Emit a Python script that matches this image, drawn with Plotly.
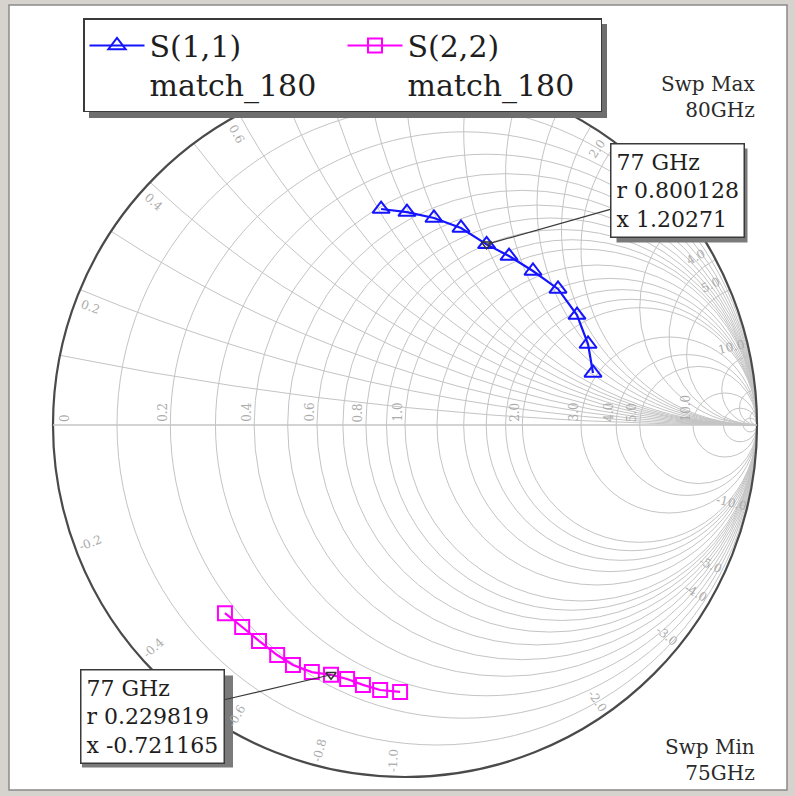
import math
import plotly.graph_objects as go

# ---------------- data ----------------
freq_ghz = [75.0, 75.5, 76.0, 76.5, 77.0, 77.5, 78.0, 78.5, 79.0, 79.5, 80.0]

s11_r = [0.408, 0.468, 0.545, 0.648, 0.800128, 0.939, 1.134, 1.411, 1.848, 2.388, 2.900]
s11_x = [0.809, 0.893, 0.990, 1.097, 1.20271, 1.321, 1.467, 1.648, 1.740, 1.624, 1.237]

s22_r = [0.265, 0.250, 0.245, 0.241, 0.229819, 0.209, 0.197, 0.193, 0.190, 0.185, 0.176]
s22_x = [-0.946, -0.879, -0.821, -0.769, -0.721165, -0.671, -0.619, -0.572, -0.516, -0.465, -0.416]

marker_freq = ["77 GHz", "77 GHz"]
marker_r = [0.800128, 0.229819]
marker_x = [1.20271, -0.721165]
marker_r_text = ["0.800128", "0.229819"]
marker_x_text = ["1.20271", "-0.721165"]

grid_vals = [0.1, 0.2, 0.3, 0.4, 0.5, 0.6, 0.7, 0.8, 0.9, 1.0,
             1.2, 1.4, 1.6, 1.8, 2.0, 3.0, 4.0, 5.0, 10.0, 20.0, 50.0]
real_label_vals = [0, 0.2, 0.4, 0.6, 0.8, 1.0, 2.0, 3.0, 4.0, 5.0, 10.0]
imag_label_vals = [0.2, 0.4, 0.6, 0.8, 1.0, 2.0, 3.0, 4.0, 5.0, 10.0]

# ---------------- geometry ----------------
W, H = 795, 796
CX, CY, RAD = 405.0, 425.0, 352.0
SERIF = "DejaVu Serif"
LEGEND_BOX = (83, 18, 601, 112)  # left, top, right, bottom (px)


def z_to_px(r, x):
    z = complex(r, x)
    g = (z - 1) / (z + 1)
    return CX + g.real * RAD, CY - g.imag * RAD


def paper(px, py):
    return px / W, 1 - py / H


fig = go.Figure()

fig.add_trace(go.Scattersmith(
    real=s11_r, imag=s11_x, mode="lines+markers",
    name="S(1,1)<br>match_180",
    line=dict(color="#1414ff", width=2.2),
    marker=dict(symbol="triangle-up-open", size=15, color="#1414ff",
                line=dict(width=2, color="#1414ff")),
    text=[f"{f} GHz" for f in freq_ghz],
))
fig.add_trace(go.Scattersmith(
    real=s22_r, imag=s22_x, mode="lines+markers",
    name="S(2,2)<br>match_180",
    line=dict(color="#ff00ff", width=2.2),
    marker=dict(symbol="square-open", size=14, color="#ff00ff",
                line=dict(width=2, color="#ff00ff")),
    text=[f"{f} GHz" for f in freq_ghz],
))
fig.add_trace(go.Scattersmith(
    real=marker_r, imag=marker_x, mode="markers", showlegend=False,
    marker=dict(symbol="triangle-down-open", size=9, color="#303030",
                line=dict(width=1.5, color="#303030")),
))

annotations = []
shapes = [
    dict(type="rect", xref="paper", yref="paper", layer="below",
         x0=9 / W, x1=787 / W, y0=1 - 790 / H, y1=1 - 5 / H,
         fillcolor="white", line=dict(color="#8a8a8a", width=1.5)),
    # legend shadow
    dict(type="rect", xref="paper", yref="paper", layer="above",
         x0=(LEGEND_BOX[0] + 6) / W, x1=(LEGEND_BOX[2] + 6) / W,
         y0=1 - (LEGEND_BOX[3] + 6) / H, y1=1 - (LEGEND_BOX[1] + 6) / H,
         fillcolor="#6e6e6e", line=dict(width=0)),
]

# real-axis labels
for r in real_label_vals:
    g = (r - 1) / (r + 1)
    px = CX + g * RAD
    xp, yp = paper(px, CY)
    annotations.append(dict(
        x=xp, y=yp, xref="paper", yref="paper", showarrow=False,
        text="0" if r == 0 else f"{r:.1f}", textangle=-90,
        xanchor="center", yanchor="bottom",
        xshift=12 if r == 0 else -7, yshift=1,
        font=dict(family=SERIF, size=12, color="#ababab"),
    ))

# imaginary (rim) labels (those hidden behind the legend box are skipped)
for v in imag_label_vals:
    for s in (1, -1):
        z = complex(0, s * v)
        g = (z - 1) / (z + 1)
        th = math.atan2(g.imag, g.real) + s * math.radians(2.0)
        px = CX + 0.955 * RAD * math.cos(th)
        py = CY - 0.955 * RAD * math.sin(th)
        if (LEGEND_BOX[0] - 10 <= px <= LEGEND_BOX[2] + 10
                and py <= LEGEND_BOX[3] + 8):
            continue
        ang = -(math.degrees(th) + 180.0)
        while ang > 180:
            ang -= 360
        while ang <= -180:
            ang += 360
        if ang > 90:
            ang -= 180
        elif ang < -90:
            ang += 180
        xp, yp = paper(px, py)
        annotations.append(dict(
            x=xp, y=yp, xref="paper", yref="paper", showarrow=False,
            text=f"{s * v:.1f}", textangle=ang,
            xanchor="center", yanchor="middle",
            font=dict(family=SERIF, size=12, color="#ababab"),
        ))

# marker read-out boxes: centre and half-size in pixels
boxes = [(677.0, 190.5, 65.5, 47.0), (152.5, 716.5, 75.5, 46.0)]
for i in range(len(marker_r)):
    mx, my = z_to_px(marker_r[i], marker_x[i])
    bx, by, hw, hh = boxes[i]
    xp, yp = paper(mx, my)
    txt = f"{marker_freq[i]}<br>r {marker_r_text[i]}<br>x {marker_x_text[i]}"
    shapes.append(dict(type="rect", xref="paper", yref="paper", layer="above",
                       x0=(bx - hw + 5) / W, x1=(bx + hw + 5) / W,
                       y0=1 - (by + hh + 5) / H, y1=1 - (by - hh + 5) / H,
                       fillcolor="#7a7a7a", line=dict(width=0)))
    annotations.append(dict(
        x=xp, y=yp, xref="paper", yref="paper", text=txt, align="left",
        showarrow=True, axref="pixel", ayref="pixel",
        ax=bx - mx, ay=by - my, arrowhead=0, arrowcolor="#3a3a3a", arrowwidth=1.2,
        borderpad=5, borderwidth=1.5, bgcolor="white", bordercolor="#3a3a3a",
        font=dict(family=SERIF, size=22, color="#1e1e1e")))

# sweep limits
for lines, ytop in ((["Swp Max", "80GHz"], 70), (["Swp Min", "75GHz"], 733)):
    xp, yp = paper(757, ytop)
    annotations.append(dict(
        x=xp, y=yp, xref="paper", yref="paper", showarrow=False,
        text="<br>".join(lines), align="right", xanchor="right", yanchor="top",
        font=dict(family=SERIF, size=20, color="#2a2a2a"),
    ))

fig.update_layout(
    width=W, height=H,
    margin=dict(l=0, r=0, t=0, b=0),
    paper_bgcolor="#d6d3ce",
    plot_bgcolor="white",
    font=dict(family=SERIF, color="#1e1e1e"),
    smith=dict(
        domain=dict(x=[(CX - RAD) / W, (CX + RAD) / W],
                    y=[1 - (CY + RAD) / H, 1 - (CY - RAD) / H]),
        bgcolor="white",
        realaxis=dict(tickvals=grid_vals, showticklabels=False, ticks="",
                      gridcolor="#c4c4c4", gridwidth=1.3,
                      showline=True, linecolor="#c4c4c4", linewidth=1.3),
        imaginaryaxis=dict(tickvals=grid_vals, showticklabels=False, ticks="",
                           gridcolor="#c4c4c4", gridwidth=1.3,
                           showline=True, linecolor="#4a4a4a", linewidth=2.2),
    ),
    showlegend=True,
    legend=dict(orientation="h", x=LEGEND_BOX[0] / W, y=1 - LEGEND_BOX[1] / H,
                xanchor="left", yanchor="top", valign="top",
                itemwidth=55, entrywidth=188,
                bgcolor="white", bordercolor="#3a3a3a", borderwidth=1.5,
                font=dict(family=SERIF, size=30, color="#1e1e1e")),
    annotations=annotations,
    shapes=shapes,
    hovermode=False,
)

fig.write_html("out.html",
               config={"displayModeBar": False},
               post_script="document.body.style.margin='0px';"
                           "document.body.style.overflow='hidden';")
